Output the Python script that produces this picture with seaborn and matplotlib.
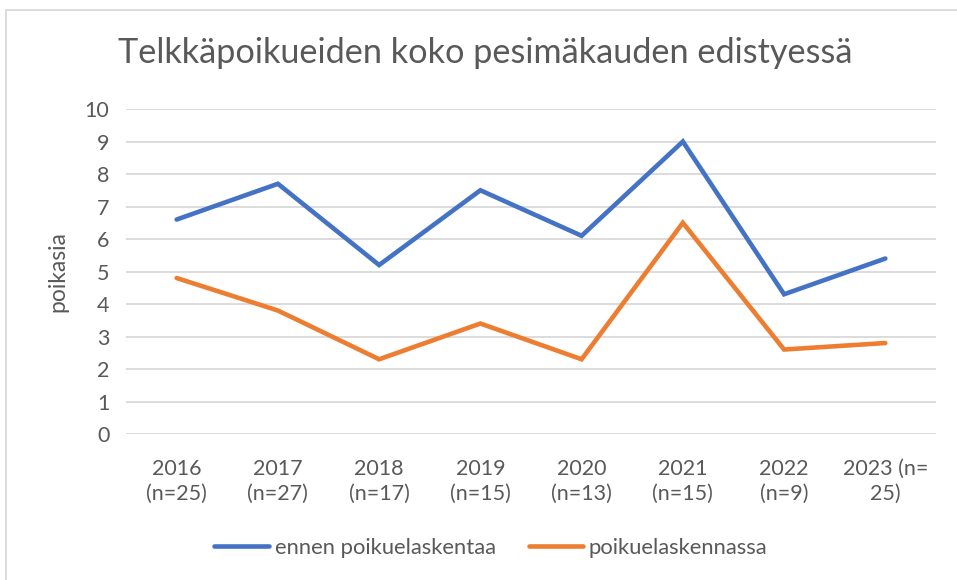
import matplotlib
matplotlib.use("Agg")
import matplotlib.pyplot as plt
import seaborn as sns
import pandas as pd
from matplotlib.patches import Rectangle
from matplotlib.lines import Line2D

categories = ["2016\n(n=25)", "2017\n(n=27)", "2018\n(n=17)", "2019\n(n=15)",
              "2020\n(n=13)", "2021\n(n=15)", "2022\n(n=9)", "2023 (n=\n25)"]
ennen = [6.6, 7.7, 5.2, 7.5, 6.1, 9.0, 4.3, 5.4]
poikue = [4.8, 3.8, 2.3, 3.4, 2.3, 6.5, 2.6, 2.8]
series_names = ["ennen poikuelaskentaa", "poikuelaskennassa"]
y_ticks = list(range(0, 11))

sns.set_theme(style="white")
plt.rcParams['font.family'] = ['Lato', 'DejaVu Sans']

df = pd.DataFrame({
    "x": list(range(len(categories))) * 2,
    "value": ennen + poikue,
    "series": [series_names[0]] * len(ennen) + [series_names[1]] * len(poikue),
})

fig = plt.figure(figsize=(9.57, 5.8), dpi=100)
ax = fig.add_axes([0.1317, 0.2517, 0.8463, 0.5603])
grey = "#595959"

sns.lineplot(data=df, x="x", y="value", hue="series",
             palette=["#4472C4", "#ED7D31"], linewidth=3.3, ax=ax,
             legend=False, solid_capstyle="round", solid_joinstyle="miter")

ax.set_xlim(-0.5, 7.5)
ax.set_ylim(0, 10)
ax.set_yticks(y_ticks)
ax.set_yticklabels([str(t) for t in y_ticks], color=grey, fontsize=15.5)
ax.set_xticks(range(len(categories)))
ax.set_xticklabels(categories, color=grey, fontsize=15.5, linespacing=1.3)
ax.tick_params(axis="y", length=0, pad=12)
ax.tick_params(axis="x", length=0, pad=18)
ax.grid(axis="y", color="#D9D9D9", linewidth=1.3)
ax.set_axisbelow(True)
for s in ax.spines.values():
    s.set_visible(False)
ax.set_xlabel("")
ax.set_ylabel("poikasia", color=grey, fontsize=16.5, labelpad=12)

fig.text(0.123, 0.908, "Telkkäpoikueiden koko pesimäkauden edistyessä",
         fontsize=24.7, color=grey, va="center", ha="left")

handles = [Line2D([0], [0], color="#4472C4", lw=3.3),
           Line2D([0], [0], color="#ED7D31", lw=3.3)]
fig.legend(handles, series_names, loc="center", bbox_to_anchor=(0.513, 0.055),
           ncol=2, frameon=False, fontsize=15.8, labelcolor=grey,
           handlelength=2.5, handletextpad=0.25, columnspacing=1.5)

fig.patches.append(Rectangle((0.0063, -0.05), 1.1, 1.033, transform=fig.transFigure,
                             fill=False, edgecolor="#D9D9D9", linewidth=1.3))

fig.savefig("out.png", dpi=100, facecolor="white")
